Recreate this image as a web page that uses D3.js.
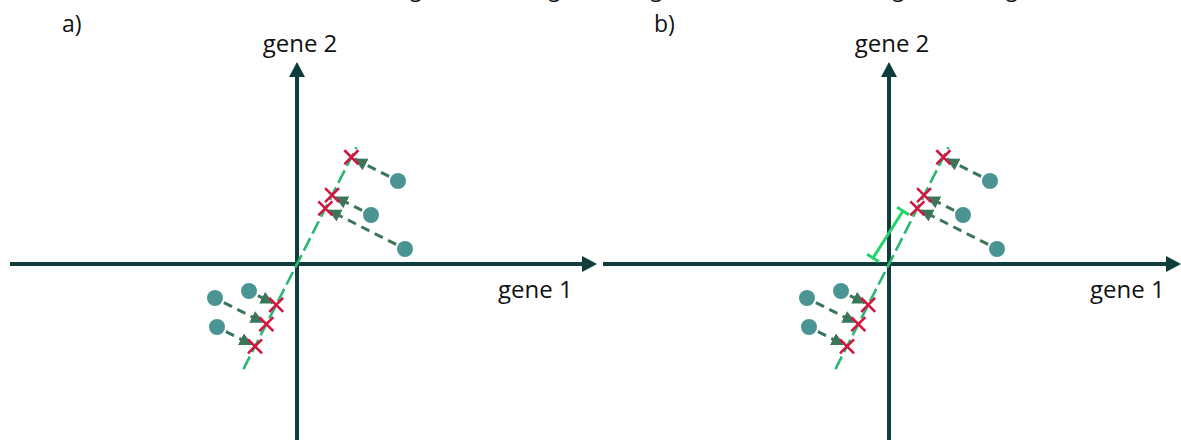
<!DOCTYPE html>
<html>
<head>
<meta charset="utf-8">
<script src="https://cdn.jsdelivr.net/npm/d3@7"></script>
<style>
  html, body { margin: 0; padding: 0; background: #ffffff; }
  svg { display: block; }
  text { font-family: "Open Sans", "Noto Sans", sans-serif; fill: #111; }
</style>
</head>
<body>
<svg id="chart" width="1181" height="440"></svg>
<script>
// ---- data (gene-space coordinates) ----
const panels = ["a)", "b)"];
const gene1Values = [10.1, 7.4, 10.8, -8.2, -4.8, -8.0];
const gene2Values = [8.3, 4.9, 1.5, -3.4, -2.7, -6.3];
const axisLabels = ["gene 1", "gene 2"];
const regressionDirection = [0.454, 0.891];   // direction of the fitted line through the origin
const regressionExtent = [-11.8, 13.1];       // along-line extent of the dashed line
const distanceBarStart = [-1.6, 0.6];         // panel b bar
const distanceBarEnd = [1.4, 5.3];
const titleText = "Reducing data to a single axis (a green line: the best fitting line through zero)";

const svg = d3.select("#chart");
const W = 1181, H = 440;

const colAxis = "#0e3d3b", colPoint = "#4b9494", colCross = "#d0173f",
      colLine = "#2bb673", colArrow = "#3c765a", colBar = "#22d36c";

const points = gene1Values.map((g1, i) => ({g1, g2: gene2Values[i]}));
const [vx, vy] = regressionDirection;
const proj = p => { const t = p.g1 * vx + p.g2 * vy; return {g1: t * vx, g2: t * vy}; };

// arrowhead marker
const defs = svg.append("defs");
defs.append("marker").attr("id", "projArrow")
  .attr("viewBox", "0 0 12 12").attr("refX", 11).attr("refY", 6)
  .attr("markerWidth", 13).attr("markerHeight", 13).attr("markerUnits", "userSpaceOnUse")
  .attr("orient", "auto")
  .append("path").attr("d", "M0,0 L12,6 L0,12 Z").attr("fill", colArrow);

function drawPanel(idx, ox, oy, xLeftPx, xRightPx) {
  const g = svg.append("g");
  const x = d3.scaleLinear().domain([-10, 10]).range([ox - 100, ox + 100]);
  const y = d3.scaleLinear().domain([-10, 10]).range([oy + 100, oy - 100]);
  const axW = 4;

  // horizontal axis
  const arrowLen = 15, arrowHalf = 8;
  g.append("line").attr("x1", xLeftPx).attr("x2", xRightPx - arrowLen + 1)
    .attr("y1", y(0)).attr("y2", y(0)).attr("stroke", colAxis).attr("stroke-width", axW);
  g.append("path").attr("fill", colAxis)
    .attr("d", `M${xRightPx},${y(0)} L${xRightPx - arrowLen},${y(0) - arrowHalf} L${xRightPx - arrowLen},${y(0) + arrowHalf} Z`);
  // vertical axis
  const topY = 62;
  g.append("line").attr("x1", x(0)).attr("x2", x(0)).attr("y1", H).attr("y2", topY + arrowLen - 1)
    .attr("stroke", colAxis).attr("stroke-width", axW);
  g.append("path").attr("fill", colAxis)
    .attr("d", `M${x(0)},${topY} L${x(0) - arrowHalf},${topY + arrowLen} L${x(0) + arrowHalf},${topY + arrowLen} Z`);

  // labels
  g.append("text").attr("x", x(0) + 3).attr("y", 52).attr("text-anchor", "middle")
    .attr("font-size", 24).text(axisLabels[1]);
  g.append("text").attr("x", x(20.1)).attr("y", 298).attr("text-anchor", "start")
    .attr("font-size", 24).text(axisLabels[0]);
  g.append("text").attr("x", x(-23.5)).attr("y", 32).attr("font-size", 23).text(panels[idx]);

  // regression dashed line
  g.append("line")
    .attr("x1", x(regressionExtent[0] * vx)).attr("y1", y(regressionExtent[0] * vy))
    .attr("x2", x(regressionExtent[1] * vx)).attr("y2", y(regressionExtent[1] * vy))
    .attr("stroke", colLine).attr("stroke-width", 2.6).attr("stroke-dasharray", "14,5");

  // distance bar (panel b)
  if (idx === 1) {
    const x1 = x(distanceBarStart[0]), y1 = y(distanceBarStart[1]);
    const x2 = x(distanceBarEnd[0]), y2 = y(distanceBarEnd[1]);
    const len = Math.hypot(x2 - x1, y2 - y1);
    const nx = -(y2 - y1) / len * 7, ny = (x2 - x1) / len * 7;
    g.append("line").attr("x1", x1).attr("y1", y1).attr("x2", x2).attr("y2", y2)
      .attr("stroke", colBar).attr("stroke-width", 3);
    [[x1, y1], [x2, y2]].forEach(([cx, cy]) => {
      g.append("line").attr("x1", cx - nx).attr("y1", cy - ny).attr("x2", cx + nx).attr("y2", cy + ny)
        .attr("stroke", colBar).attr("stroke-width", 3);
    });
  }

  // projection arrows
  points.forEach(p => {
    const q = proj(p);
    const px = x(p.g1), py = y(p.g2), qx = x(q.g1), qy = y(q.g2);
    const d = Math.hypot(qx - px, qy - py);
    const ux = (qx - px) / d, uy = (qy - py) / d;
    g.append("line")
      .attr("x1", px + ux * 10).attr("y1", py + uy * 10)
      .attr("x2", qx - ux * 4).attr("y2", qy - uy * 4)
      .attr("stroke", colArrow).attr("stroke-width", 3).attr("stroke-dasharray", "9,6")
      .attr("marker-end", "url(#projArrow)");
  });

  // points
  g.selectAll("circle.pt").data(points).join("circle").attr("class", "pt")
    .attr("cx", d => x(d.g1)).attr("cy", d => y(d.g2)).attr("r", 8).attr("fill", colPoint);

  // crosses at projections
  const s = 7;
  points.map(proj).forEach(q => {
    const cx = x(q.g1), cy = y(q.g2);
    g.append("path").attr("d", `M${cx - s},${cy - s} L${cx + s},${cy + s} M${cx - s},${cy + s} L${cx + s},${cy - s}`)
      .attr("stroke", colCross).attr("stroke-width", 2.6).attr("fill", "none");
  });
}

drawPanel(0, 297, 264, 10, 597);
drawPanel(1, 889, 264, 603, 1181);

// title sits above the picture's top edge (only descenders show, as in the reference)
const title = svg.append("text").attr("x", 0).attr("y", -3).attr("font-size", 22).text(titleText);
const node = title.node();
const gi = titleText.indexOf("g"), pi = titleText.lastIndexOf(")");
const g0 = node.getStartPositionOfChar(gi).x, p0 = node.getStartPositionOfChar(pi).x;
const fs = 22 * (1080 - 410) / (p0 - g0);
title.attr("font-size", fs);
const g1 = node.getStartPositionOfChar(gi).x;
title.attr("x", 410 - g1);
</script>
</body>
</html>
